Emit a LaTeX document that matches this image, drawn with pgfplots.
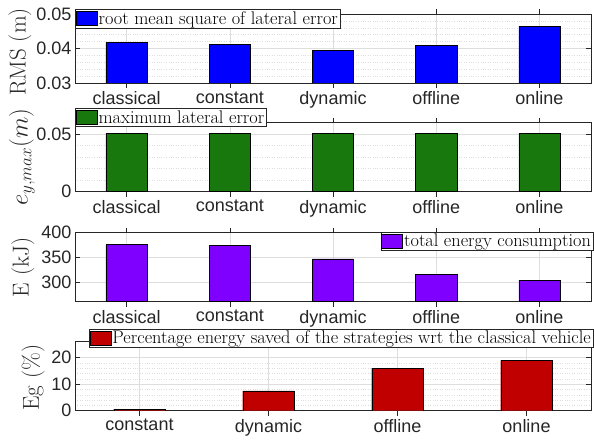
\documentclass[border=0pt]{standalone}
\usepackage{pgfplots}
\pgfplotsset{compat=1.18}
\usepackage{fontspec}
\newfontfamily\tickfont{Liberation Sans}
\definecolor{axgray}{RGB}{38,38,38}
\definecolor{gridgray}{RGB}{222,222,222}
\definecolor{cblue}{RGB}{0,0,255}
\definecolor{cgreen}{RGB}{24,120,14}
\definecolor{cpurple}{RGB}{127,0,255}
\definecolor{cred}{RGB}{192,0,0}
\pgfplotsset{
 mystyle/.style={
  scale only axis, width=516pt, height=69pt, anchor=south west,
  axis line style={axgray, line width=0.6pt},
  tick style={axgray, line width=0.6pt}, major tick length=5pt, minor tick length=0pt,
  tick pos=both, scaled y ticks=false,
  xtick={1,...,5}, xmin=0.5, xmax=5.5,
  xticklabels={classical,constant,dynamic,offline,online},
  ticklabel style={font=\tickfont\fontsize{18}{20}\selectfont, text=axgray},
  /pgf/number format/assume math mode=true,
  ylabel style={font=\fontsize{23}{25}\selectfont, text=axgray, anchor=center},
  xmajorgrids, ymajorgrids,
  major grid style={gridgray, line width=0.5pt},
  minor grid style={gridgray, dotted, line width=0.5pt},
  legend style={draw=axgray, fill=white, font=\fontsize{18.3}{20}\selectfont, inner sep=0.5pt, nodes={inner sep=1.5pt}, legend cell align=left},
  ybar, bar width=0.4,
 },
 myleg/.style={legend image code/.code={\draw[##1, draw=black] (-2pt,-7pt) rectangle (19pt,7pt);}},
}
\begin{document}
\begin{tikzpicture}
\path[use as bounding box] (0,0) rectangle (594pt,439pt);
% Panel 1
\begin{axis}[mystyle, at={(75pt,356pt)},
  ymin=0.03, ymax=0.05, ytick={0.03,0.04,0.05}, yticklabels={0.03,0.04,0.05},
  yminorgrids, minor y tick num=4,
  ylabel={RMS (m)}, ylabel style={at={(axis description cs:-0.107,0.45)}},
  legend style={at={(axis description cs:0.0,1.07)}, anchor=north west}]
\addplot[fill=cblue, draw=black, myleg] coordinates {(1,0.0417) (2,0.0413) (3,0.0394) (4,0.0409) (5,0.0465)};
\legend{root mean square of lateral error}
\end{axis}
% Panel 2
\begin{axis}[mystyle, at={(75pt,247.3pt)},
  ymin=0, ymax=0.06, ytick={0,0.05}, yticklabels={0,0.05},
  yminorgrids, minor y tick num=4,
  ylabel={$e_{y,max}(m)$}, ylabel style={at={(axis description cs:-0.103,0.5)}},
  legend style={at={(axis description cs:0.0,1.21)}, anchor=north west}]
\addplot[fill=cgreen, draw=black, myleg] coordinates {(1,0.0505) (2,0.0505) (3,0.0505) (4,0.0505) (5,0.0505)};
\legend{maximum lateral error}
\end{axis}
% Panel 3
\begin{axis}[mystyle, at={(75pt,137.3pt)},
  ymin=260, ymax=400, ytick={300,350,400}, yticklabels={300,350,400},
  ylabel={E (kJ)}, ylabel style={at={(axis description cs:-0.101,0.5)}},
  legend style={at={(axis description cs:1.004,1.01)}, anchor=north east}]
\addplot[fill=cpurple, draw=black, myleg] coordinates {(1,376) (2,374) (3,347) (4,316) (5,304)};
\legend{total energy consumption}
\end{axis}
% Panel 4
\begin{axis}[mystyle, at={(75pt,28.3pt)},
  xmin=0.5, xmax=4.5, xtick={1,...,4}, xticklabels={constant,dynamic,offline,online},
  ymin=0, ymax=26, ytick={0,10,20}, yticklabels={0,10,20},
  yminorgrids, minor y tick num=4,
  ylabel={Eg (\%)}, ylabel style={at={(axis description cs:-0.081,0.48)}},
  legend style={at={(axis description cs:1.004,1.19)}, anchor=north east}]
\addplot[fill=cred, draw=black, myleg] coordinates {(1,0.6) (2,7.5) (3,16.0) (4,19.0)};
\legend{Percentage energy saved of the strategies wrt the classical vehicle}
\end{axis}
\end{tikzpicture}
\end{document}
